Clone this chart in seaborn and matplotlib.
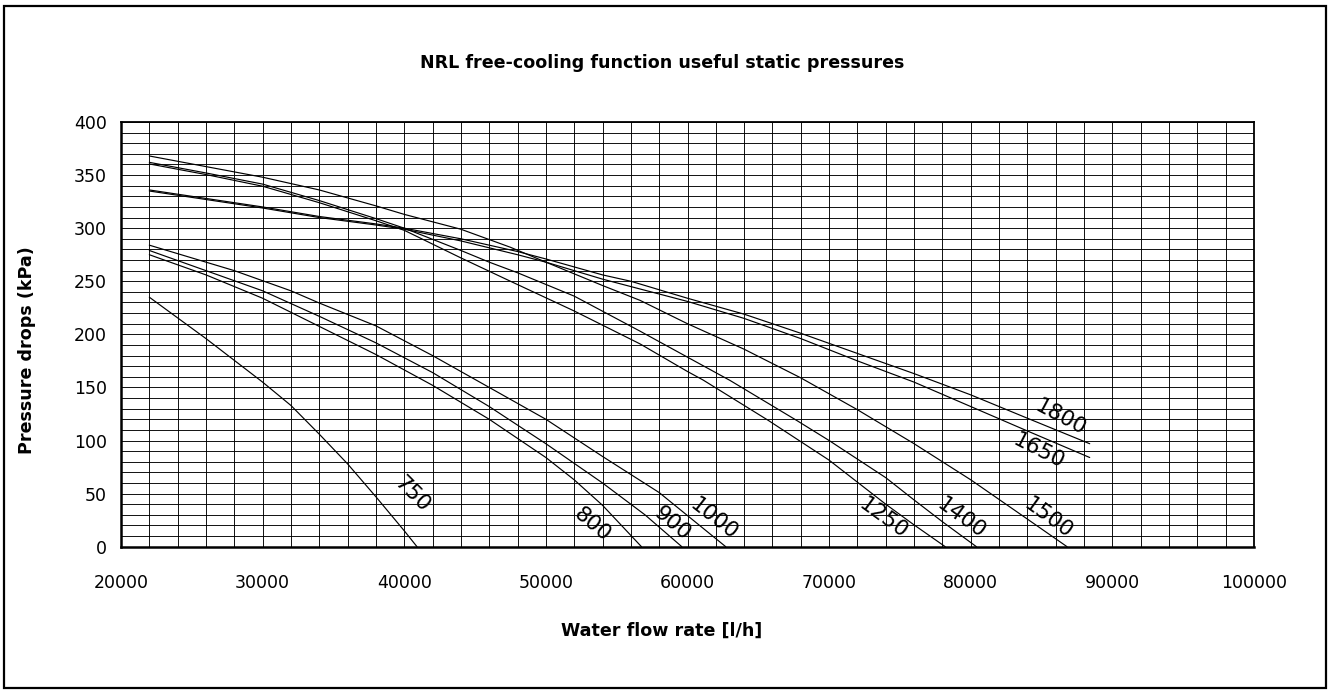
import matplotlib
matplotlib.use("Agg")
import matplotlib.pyplot as plt
from matplotlib.ticker import MultipleLocator
from matplotlib.patches import Rectangle
import pandas as pd
import seaborn as sns

# Model curves: water flow rate [l/h] and available static pressure [kPa]
flow_750 = [22000, 26000, 30000, 32000, 34000, 36000, 38000, 40000, 40900]
dp_750 = [235, 196, 155, 133, 106, 78, 47, 15, 0]

flow_800 = [22000, 26000, 30000, 34000, 38000, 42000, 46000, 50000, 52000, 54000, 56750]
dp_800 = [275, 256, 234, 207.5, 181, 152, 120, 84, 63, 39, 0]

flow_900 = [22000, 26000, 30000, 34000, 38000, 42000, 46000, 50000, 54000, 57000, 59600]
dp_900 = [279, 260, 241, 217, 192, 164, 132, 97, 60, 30, 0]

flow_1000 = [22000, 26000, 28000, 32000, 34000, 38000, 42000, 46000, 50000, 54000, 58000, 62700]
dp_1000 = [284, 268, 260, 241, 229.5, 208, 180, 150, 120, 85, 51, 0]

flow_1250 = [22000, 26000, 30000, 34000, 38000, 40000, 44000, 47500, 52000, 56650, 60000,
             61100, 65700, 70000, 74000, 76000, 78200]
dp_1250 = [360.5, 350.5, 339.5, 324, 307, 298, 272, 250, 222, 191, 165,
           157, 119, 81.5, 40, 20.5, 0]

flow_1400 = [22000, 26000, 30000, 34000, 38000, 40000, 44000, 46000, 48000, 52000, 56650,
             60000, 63000, 67700, 70000, 74000, 76000, 78000, 80400]
dp_1400 = [362, 352, 341.5, 326, 309, 300, 279, 268, 258, 236, 203,
           178.5, 156.6, 119, 100, 65, 44, 23.5, 0]

flow_1500 = [22000, 26000, 30000, 34000, 38000, 40000, 44000, 47500, 50000, 54000, 56650,
             60000, 64000, 68000, 72000, 76000, 80000, 84000, 86800]
dp_1500 = [368, 358, 348, 336, 321, 313, 299, 282, 268, 246, 232,
           210, 186, 159, 129, 97, 63, 26, 0]

flow_1650 = [22000, 26000, 30000, 34000, 38000, 40000, 44000, 48000, 50000, 54000, 56000,
             60000, 64000, 68000, 72000, 76000, 80000, 84000, 88400]
dp_1650 = [335, 327, 319, 310, 303, 299, 288, 275, 268, 252, 245,
           231, 215, 196, 175, 155, 132, 109, 84]

flow_1800 = [22000, 26000, 30000, 34000, 38000, 40000, 44000, 48000, 50000, 54000, 56000,
             60000, 64000, 68000, 72000, 76000, 80000, 84000, 88400]
dp_1800 = [336, 328, 320, 311, 304, 300, 290, 278, 271, 256, 250,
           234, 219, 201, 182, 163, 143, 121, 97]

series_names = ["750", "800", "900", "1000", "1250", "1400", "1500", "1650", "1800"]

# Curve name labels drawn along the lines
label_x = [40550, 53260, 58950, 61880, 73810, 79320, 85470, 84830, 86380]
label_y = [49, 21, 22, 26, 27, 27, 27, 90, 122]
label_rot = [-45, -40, -40, -38, -36, -36, -36, -27, -28]

x_ticks = [20000, 30000, 40000, 50000, 60000, 70000, 80000, 90000, 100000]
y_ticks = [0, 50, 100, 150, 200, 250, 300, 350, 400]

title_text = "NRL free-cooling function useful static pressures"
x_title = "Water flow rate [l/h]"
y_title = "Pressure drops (kPa)"

pairs = [(flow_750, dp_750), (flow_800, dp_800), (flow_900, dp_900),
         (flow_1000, dp_1000), (flow_1250, dp_1250), (flow_1400, dp_1400),
         (flow_1500, dp_1500), (flow_1650, dp_1650), (flow_1800, dp_1800)]
df = pd.concat(
    [pd.DataFrame({"flow": f, "dp": p, "model": name})
     for name, (f, p) in zip(series_names, pairs)],
    ignore_index=True,
)

sns.set_style("white")
plt.rcParams["font.family"] = ["DejaVu Sans"]
plt.rcParams["text.color"] = "black"

W, H = 1330, 691
fig = plt.figure(figsize=(W / 100, H / 100), dpi=100)
fig.patch.set_facecolor("white")

left, right, top, bottom = 121, 1254, 122, 546.7
ax = fig.add_axes([left / W, 1 - bottom / H, (right - left) / W, (bottom - top) / H])

sns.lineplot(data=df, x="flow", y="dp", hue="model", hue_order=series_names,
             palette=["black"] * len(series_names), estimator=None, legend=False,
             linewidth=0.85, ax=ax, zorder=3)

ax.set_xlim(20000, 100000)
ax.set_ylim(0, 400)
ax.set_xticks(x_ticks)
ax.set_yticks(y_ticks)
ax.set_xticklabels([str(v) for v in x_ticks])
ax.set_yticklabels([str(v) for v in y_ticks])
ax.xaxis.set_minor_locator(MultipleLocator(2000))
ax.yaxis.set_minor_locator(MultipleLocator(10))
ax.grid(which="both", color="black", linewidth=0.65)
ax.tick_params(which="major", direction="out", length=6, width=1.0,
               labelsize=12.5, colors="black", labelcolor="black", pad=4)
ax.tick_params(axis="x", which="major", pad=14)
ax.tick_params(which="minor", length=0)
ax.set_xlabel("")
ax.set_ylabel("")
for s in ax.spines.values():
    s.set_color("black")
    s.set_linewidth(1.3)
ax.spines["left"].set_linewidth(1.8)
ax.spines["bottom"].set_linewidth(1.8)

for name, lx, ly, rot in zip(series_names, label_x, label_y, label_rot):
    ax.text(lx, ly, name, rotation=rot, rotation_mode="anchor", ha="center",
            va="center", fontsize=15.5, color="black", zorder=4)

fig.text(662 / W, 1 - 63 / H, title_text, ha="center", va="center",
         fontsize=12.6, fontweight="bold", color="black")
fig.text(662 / W, 1 - 631 / H, x_title, ha="center", va="center",
         fontsize=12.6, fontweight="bold", color="black")
fig.text(27 / W, 1 - 350 / H, y_title, ha="center", va="center",
         fontsize=12.6, fontweight="bold", rotation=90, color="black")

fig.patches.append(Rectangle((4 / W, 1 - 688 / H), (1326 - 4) / W, (688 - 6) / H,
                             transform=fig.transFigure, fill=False,
                             edgecolor="black", linewidth=1.6))

fig.savefig("out.png", dpi=100, facecolor="white")
